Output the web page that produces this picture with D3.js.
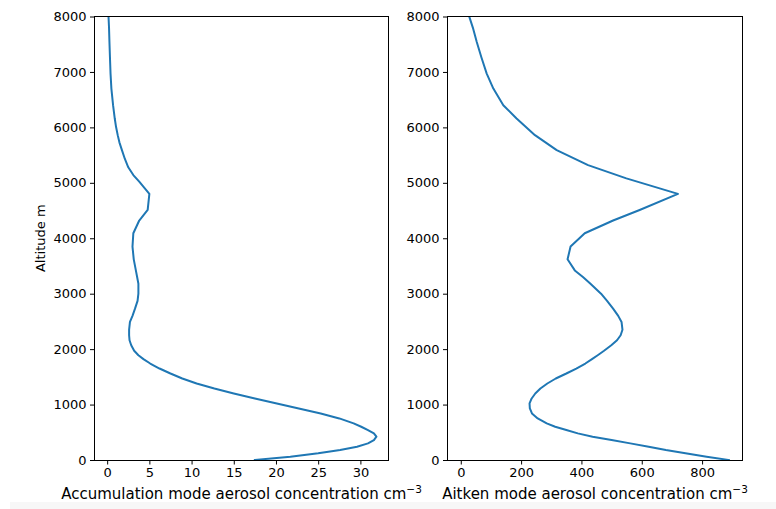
<!DOCTYPE html>
<html>
<head>
<meta charset="utf-8">
<script src="https://cdn.jsdelivr.net/npm/d3@7/dist/d3.min.js"></script>
<style>
  html, body { margin: 0; padding: 0; background: #ffffff; }
  svg { display: block; }
  .tick text { font-family: "DejaVu Sans", sans-serif; font-size: 13px; fill: #000; }
  .tick line { stroke: #000; stroke-width: 1; }
  .domain { display: none; }
</style>
</head>
<body>
<svg id="chart" width="776" height="509"></svg>
<script>
// Accumulation mode profile: altitude (m) and number concentration (cm^-3)
const accAltitude = [0, 60, 120, 180, 240, 300, 360, 420, 480, 540, 600, 660, 750, 840, 930,
  1020, 1110, 1200, 1290, 1380, 1470, 1560, 1650, 1740, 1820, 1890, 1970, 2070, 2160, 2250,
  2350, 2490, 2600, 2730, 2870, 3000, 3180, 3300, 3420, 3620, 3850, 4090, 4320, 4510, 4800,
  5020, 5140, 5280, 5430, 5590, 5730, 5860, 6010, 6160, 6400, 6700, 6970, 7270, 7540, 7800, 8000];
const accumulation = [17.5, 21.7, 25.0, 27.6, 29.6, 30.9, 31.6, 31.9, 31.6, 30.9, 30.1, 29.2, 27.5, 25.3, 22.7,
  20.1, 17.5, 15.0, 12.7, 10.6, 8.9, 7.5, 6.2, 5.1, 4.3, 3.7, 3.2, 2.85, 2.65, 2.6,
  2.6, 2.7, 3.0, 3.3, 3.6, 3.7, 3.7, 3.55, 3.4, 3.15, 3.0, 3.1, 3.8, 4.8, 5.0,
  3.8, 3.1, 2.5, 2.1, 1.75, 1.45, 1.25, 1.05, 0.9, 0.7, 0.5, 0.4, 0.33, 0.27, 0.22, 0.16];

// Aitken mode profile: altitude (m) and number concentration (cm^-3)
const aitAltitude = [0, 60, 120, 180, 240, 300, 360, 420, 480, 540, 600, 660, 750, 840, 930,
  1020, 1110, 1200, 1290, 1380, 1470, 1560, 1650, 1740, 1820, 1890, 1970, 2070, 2160, 2250,
  2350, 2490, 2600, 2730, 2870, 3000, 3180, 3300, 3420, 3620, 3850, 4090, 4320, 4510, 4800,
  5080, 5320, 5590, 5860, 6160, 6400, 6700, 6970, 7270, 7540, 7800, 8000];
const aitken = [889, 815, 745, 680, 623, 562, 500, 437, 388, 350, 313, 285, 255, 236, 229,
  228, 235, 247, 264, 287, 315, 350, 383, 413, 435, 454, 475, 499, 518, 530,
  536, 533, 522, 505, 485, 465, 430, 405, 378, 354, 364, 411, 505, 593, 720,
  549, 422, 318, 246, 185, 141, 108, 86, 68, 53, 40, 28];

// Axis limits and ticks
const altLimits = [0, 8000];
const altTicks = [0, 1000, 2000, 3000, 4000, 5000, 6000, 7000, 8000];
const accLimits = [-1.5, 33.33];
const accTicks = [0, 5, 10, 15, 20, 25, 30];
const aitLimits = [-44, 934];
const aitTicks = [0, 200, 400, 600, 800];

const svg = d3.select("#chart");

// Strip of the page background below the figure
svg.append("rect").attr("x", 10).attr("y", 502).attr("width", 766).attr("height", 7)
  .attr("fill", "#f7f7f7");

const plotTop = 16.5, plotBottom = 460;

function panel(left, right, alts, values, xLimits, xTicks, xLabel, yLabel) {
  const x = d3.scaleLinear().domain(xLimits).range([left, right]);
  const y = d3.scaleLinear().domain(altLimits).range([plotBottom, plotTop]);
  const g = svg.append("g");

  const clipId = "clip" + Math.round(left);
  g.append("clipPath").attr("id", clipId).append("rect")
    .attr("x", left).attr("y", plotTop).attr("width", right - left).attr("height", plotBottom - plotTop);

  const line = d3.line().x((d, i) => x(values[i])).y(d => y(d));
  g.append("path").datum(alts)
    .attr("clip-path", `url(#${clipId})`)
    .attr("d", line)
    .attr("fill", "none")
    .attr("stroke", "#1f77b4")
    .attr("stroke-width", 2)
    .attr("stroke-linejoin", "round")
    .attr("stroke-linecap", "square");

  g.append("g").attr("transform", `translate(0,${plotBottom})`)
    .call(d3.axisBottom(x).tickValues(xTicks).tickSize(4.5).tickPadding(3.5).tickFormat(d3.format("d")));
  g.append("g").attr("transform", `translate(${left},0)`)
    .call(d3.axisLeft(y).tickValues(altTicks).tickSize(4.5).tickPadding(3.5).tickFormat(d3.format("d")));

  // Frame
  g.append("rect").attr("x", left).attr("y", plotTop).attr("width", right - left).attr("height", plotBottom - plotTop)
    .attr("fill", "none").attr("stroke", "#000").attr("stroke-width", 1).attr("shape-rendering", "crispEdges");

  const lab = g.append("text")
    .attr("x", (left + right) / 2).attr("y", 498.5)
    .attr("text-anchor", "middle")
    .attr("font-family", "DejaVu Sans, sans-serif").attr("font-size", 15).attr("fill", "#000");
  lab.append("tspan").text(xLabel + " cm");
  lab.append("tspan").attr("dy", -6).attr("font-size", 10.5).text("\u22123");

  if (yLabel) {
    g.append("text")
      .attr("transform", `translate(45,${(plotTop + plotBottom) / 2}) rotate(-90)`)
      .attr("text-anchor", "middle")
      .attr("font-family", "DejaVu Sans, sans-serif").attr("font-size", 13).attr("fill", "#000")
      .text(yLabel);
  }
}

panel(94.5, 388.5, accAltitude, accumulation, accLimits, accTicks,
  "Accumulation mode aerosol concentration", "Altitude m");
panel(447.5, 742.5, aitAltitude, aitken, aitLimits, aitTicks,
  "Aitken mode aerosol concentration", null);
</script>
</body>
</html>
